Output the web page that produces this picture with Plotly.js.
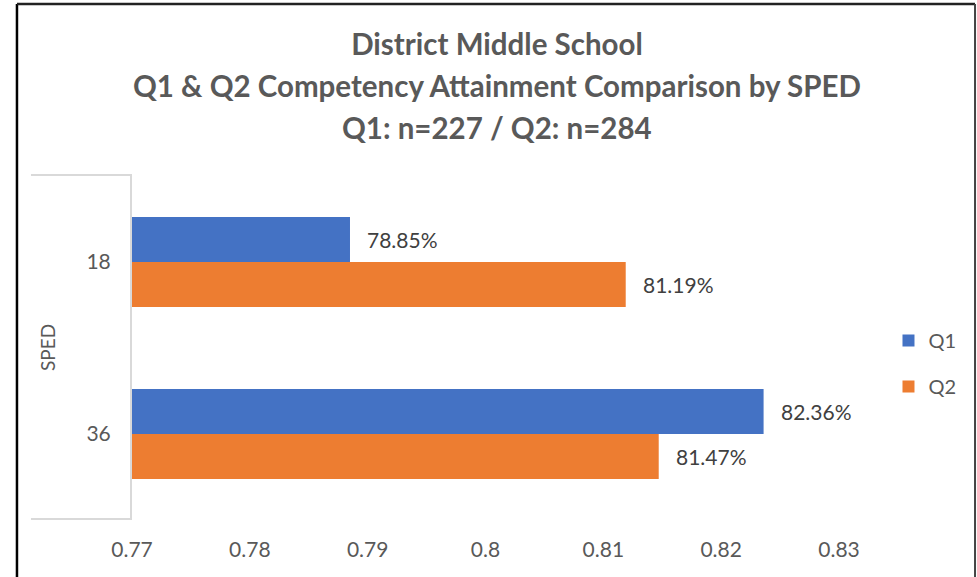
<!DOCTYPE html>
<html>
<head>
<meta charset="utf-8">
<script src="https://cdn.plot.ly/plotly-3.0.1.min.js"></script>
<style>html,body{margin:0;padding:0;background:#fff;}#chart{width:977px;height:577px;}</style>
</head>
<body>
<div id="chart"></div>
<script>
var categories = ["18", "36"];
var seriesNames = ["Q1", "Q2"];
var q1Values = [0.7885, 0.8236];
var q2Values = [0.8119, 0.8147];
var xTickVals = [0.77, 0.78, 0.79, 0.80, 0.81, 0.82, 0.83];
var xTickText = ["0.77", "0.78", "0.79", "0.8", "0.81", "0.82", "0.83"];
var titleLines = ["District Middle School", "Q1 & Q2 Competency Attainment Comparison by SPED", "Q1: n=227 / Q2: n=284"];
var groupLabel = "SPED";

var FONT = "Lato, Carlito, 'Liberation Sans', sans-serif";
var colors = ["#4472C4", "#ED7D31"];
var allSeries = [q1Values, q2Values];

var traces = allSeries.map(function (vals, i) {
  return {
    type: "bar",
    orientation: "h",
    name: seriesNames[i],
    x: vals,
    y: categories,
    marker: {color: colors[i]},
    legendgroup: "g" + i,
    hoverinfo: "x+y+name"
  };
});

var annotations = [];
allSeries.forEach(function (vals, i) {
  vals.forEach(function (v, j) {
    annotations.push({
      x: v, y: j, xref: "x", yref: "y",
      text: (v * 100).toFixed(2) + "%",
      showarrow: false, xanchor: "left", yanchor: "middle",
      xshift: 15, yshift: i === 0 ? 23 : -22,
      font: {family: FONT, size: 21, color: "#404040"}
    });
  });
});
// title lines 2 and 3
[[1, 1.2645], [2, 1.1424]].forEach(function (p) {
  annotations.push({
    x: 0.516, y: p[1], xref: "paper", yref: "paper",
    text: "<b>" + titleLines[p[0]] + "</b>", showarrow: false,
    xanchor: "center", yanchor: "middle",
    font: {family: FONT, size: 29.5, color: "#595959"}
  });
});
annotations.push({
  x: -0.1202, y: 0.5, xref: "paper", yref: "paper",
  text: groupLabel, textangle: -90, showarrow: false,
  xanchor: "center", yanchor: "middle",
  font: {family: FONT, size: 19, color: "#595959"}
});

var shapes = [
  {type: "line", xref: "paper", yref: "paper", x0: -0.1429, x1: 0, y0: 1.003, y1: 1.003, line: {color: "#d9d9d9", width: 2}},
  {type: "line", xref: "paper", yref: "paper", x0: -0.1429, x1: 0, y0: 0.003, y1: 0.003, line: {color: "#d9d9d9", width: 2}},
  {type: "line", xref: "paper", yref: "paper", x0: -0.1627, x1: -0.1627, y0: -0.3, y1: 1.5, line: {color: "#000000", width: 2.5}},
  {type: "line", xref: "paper", yref: "paper", x0: -0.1627, x1: 1.1924, y0: 1.5, y1: 1.5, line: {color: "#222222", width: 2.5}},
  {type: "line", xref: "paper", yref: "paper", x0: 1.1924, x1: 1.1924, y0: -0.3, y1: 1.5, line: {color: "#444444", width: 2}}
];

var layout = {
  width: 977, height: 577,
  margin: {l: 132, r: 138, t: 176, b: 57},
  paper_bgcolor: "#ffffff", plot_bgcolor: "#ffffff",
  font: {family: FONT, color: "#595959"},
  title: {
    text: "<b>" + titleLines[0] + "</b>",
    x: 0.5087, xanchor: "center", y: 0.922, yanchor: "middle",
    font: {family: FONT, size: 29.5, color: "#595959"}
  },
  barmode: "group",
  bargap: 0.477,
  bargroupgap: 0,
  xaxis: {
    range: [0.77, 0.83],
    tickvals: xTickVals, ticktext: xTickText,
    showgrid: false, zeroline: false, showline: false,
    ticks: "", ticklabelstandoff: 15,
    tickfont: {family: FONT, size: 21, color: "#595959"}
  },
  yaxis: {
    type: "category",
    categoryorder: "array", categoryarray: categories,
    range: [1.5, -0.5],
    showgrid: false, zeroline: false,
    showline: true, linecolor: "#d9d9d9", linewidth: 2,
    ticks: "", ticklabelstandoff: 15,
    tickfont: {family: FONT, size: 21, color: "#595959"}
  },
  legend: {
    x: 1.07, xanchor: "left", y: 0.455, yanchor: "middle",
    traceorder: "grouped", tracegroupgap: 17,
    font: {family: FONT, size: 20, color: "#595959"},
    bgcolor: "rgba(0,0,0,0)"
  },
  annotations: annotations,
  shapes: shapes,
  showlegend: true
};

Plotly.newPlot("chart", traces, layout, {displayModeBar: false, staticPlot: true});
</script>
</body>
</html>
